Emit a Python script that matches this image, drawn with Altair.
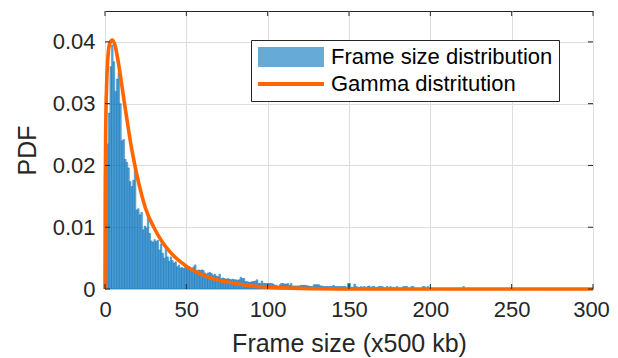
import altair as alt
import pandas as pd

# Histogram: 1-unit bins starting at 0 (bin k covers [k, k+1))
hist_vals = [
    0.0130, 0.0235, 0.0285, 0.0360, 0.0395, 0.0368, 0.0320, 0.0340, 0.0350, 0.0300,
    0.0240, 0.0242, 0.0210, 0.0205, 0.0196, 0.0174, 0.0166, 0.0176, 0.0200, 0.0128,
    0.0130, 0.0120, 0.0124, 0.0096, 0.0102, 0.0099, 0.0118, 0.0090, 0.0078, 0.0076,
    0.0080, 0.0077, 0.0079, 0.0063, 0.0073, 0.0058, 0.0050, 0.0067, 0.0052, 0.0045,
    0.0052, 0.0046, 0.0042, 0.0044, 0.0036, 0.0039, 0.0034, 0.0035, 0.0033, 0.0037,
    0.0034, 0.0031, 0.0034, 0.0030, 0.0036, 0.0039, 0.0029, 0.0031, 0.0030, 0.0031,
    0.0030, 0.0026, 0.0024, 0.0026, 0.0027, 0.0025, 0.0022, 0.0024, 0.0021, 0.0020,
    0.0024, 0.0017, 0.0018, 0.0017, 0.0016, 0.0017, 0.0016, 0.0015, 0.0016, 0.0015,
    0.0015, 0.0014, 0.0015, 0.0019, 0.0017, 0.0017, 0.0012, 0.0012, 0.0011, 0.0011,
    0.0012, 0.0012, 0.0013, 0.0015, 0.0009, 0.0009, 0.0013, 0.0009, 0.0009, 0.0009,
    0.0009, 0.0009, 0.0009, 0.0008, 0.0006, 0.0006, 0.0004, 0.0007, 0.0009, 0.0009,
    0.0008, 0.0008, 0.0009, 0.0006, 0.0009, 0.0005, 0.0005, 0.0005, 0.0005, 0.0005,
    0.0006, 0.0006, 0.0006, 0.0006, 0.0005, 0.0005, 0.0004, 0.0004, 0.0007, 0.0007,
    0.0007, 0.0007, 0.0005, 0.0005, 0.0004, 0.0004, 0.0004, 0.0004, 0.0004, 0.0004,
    0.0006, 0.0004, 0.0004, 0.0004, 0.0004, 0.0004, 0.0004, 0.0004, 0.0003, 0.0009,
    0.0009, 0.0003, 0.0003, 0.0008, 0.0004, 0.0003, 0.0000, 0.0004, 0.0003, 0.0004,
    0.0000, 0.0004, 0.0005, 0.0000, 0.0004, 0.0004, 0.0000, 0.0003, 0.0004, 0.0004,
    0.0004, 0.0000, 0.0000, 0.0004, 0.0000, 0.0004, 0.0000, 0.0003, 0.0000, 0.0004,
    0.0000, 0.0000, 0.0000, 0.0004, 0.0004, 0.0004, 0.0000, 0.0000, 0.0004, 0.0004,
    0.0000, 0.0000, 0.0000, 0.0000, 0.0000, 0.0004, 0.0004, 0.0000, 0.0004, 0.0000,
    0.0000, 0.0000, 0.0000, 0.0000, 0.0000, 0.0000, 0.0000, 0.0000, 0.0000, 0.0000,
    0.0000, 0.0000, 0.0000, 0.0000, 0.0000, 0.0000, 0.0000, 0.0000, 0.0000, 0.0000,
    0.0004,
]

# Fitted gamma curve
gamma_x = [0, 0.2, 0.5, 1, 2, 3, 4.5, 6, 8, 10, 12, 14, 16, 18, 20, 22, 25,
           30, 35, 40, 45, 50, 60, 70, 80, 90, 100, 120, 150, 200, 300]
gamma_y = [0.0, 0.018, 0.027, 0.033, 0.0382, 0.0398, 0.0403, 0.0396, 0.0370,
           0.0336, 0.0300, 0.0266, 0.0233, 0.0205, 0.0180, 0.0158, 0.0130,
           0.0100, 0.0077, 0.0060, 0.0047, 0.0037, 0.0023, 0.0014, 0.0009,
           0.0005, 0.0003, 0.0001, 0.00002, 0.0, 0.0]

x_ticks = [0, 50, 100, 150, 200, 250, 300]
y_ticks = [0, 0.01, 0.02, 0.03, 0.04]
series = ["Frame size distribution", "Gamma distritution"]

BLUE = "#0072BD"
ORANGE = "#FF6600"
DARK = "#262626"
W, H = 488, 278

hist_df = pd.DataFrame({
    "start": list(range(len(hist_vals))),
    "end": [i + 1 for i in range(len(hist_vals))],
    "pdf": hist_vals,
})
gamma_df = pd.DataFrame({"x": gamma_x, "y": gamma_y})
xt_df = pd.DataFrame({"v": x_ticks})
yt_df = pd.DataFrame({"v": y_ticks})
leg_df = pd.DataFrame({"series": series})

xscale = alt.Scale(domain=[0, 300], nice=False, zero=False)
yscale = alt.Scale(domain=[0, 0.045], nice=False)

xaxis = alt.Axis(values=x_ticks, title="Frame size (x500 kb)", grid=True,
                 tickSize=0, domain=False, labelPadding=10, titlePadding=11,
                 labelFlush=False, labelOverlap=False,
                 labelOffset={"condition": {"test": "datum.value == 300", "value": -2},
                              "value": 0})
yaxis = alt.Axis(values=y_ticks, format=".2~f", title="PDF", grid=True,
                 tickSize=0, domain=False, labelPadding=10, titlePadding=12)

bars = alt.Chart(hist_df).mark_rect(
    fill=BLUE, fillOpacity=0.6, stroke=BLUE, strokeOpacity=0.85, strokeWidth=0.5
).encode(
    x=alt.X("start:Q", scale=xscale, axis=xaxis),
    x2="end:Q",
    y=alt.Y("pdf:Q", scale=yscale, axis=yaxis),
    y2=alt.datum(0),
)

curve = alt.Chart(gamma_df).mark_line(
    color=ORANGE, strokeWidth=3.6, interpolate="monotone"
).encode(
    x=alt.X("x:Q", scale=xscale),
    y=alt.Y("y:Q", scale=yscale),
)

tick_style = dict(color=DARK, strokeWidth=1)
xt_bottom = alt.Chart(xt_df).mark_rule(**tick_style).encode(
    x=alt.X("v:Q", scale=xscale), y=alt.value(H), y2=alt.value(H - 5))
xt_top = alt.Chart(xt_df).mark_rule(**tick_style).encode(
    x=alt.X("v:Q", scale=xscale), y=alt.value(0), y2=alt.value(5))
yt_left = alt.Chart(yt_df).mark_rule(**tick_style).encode(
    y=alt.Y("v:Q", scale=yscale), x=alt.value(0), x2=alt.value(5))
yt_right = alt.Chart(yt_df).mark_rule(**tick_style).encode(
    y=alt.Y("v:Q", scale=yscale), x=alt.value(W), x2=alt.value(W - 5))

legend = alt.Legend(
    title=None, orient="none", legendX=146, legendY=29, direction="vertical",
    fillColor="white", strokeColor=DARK, padding=6, rowPadding=5,
    labelFontSize=22, labelColor="#000000", labelLimit=400,
    symbolSize=400, symbolOffset=23, labelOffset=29, symbolStrokeWidth=0,
)
legend_layer = alt.Chart(leg_df).mark_point(filled=True, clip=True, opacity=1).encode(
    x=alt.value(-200), y=alt.value(-200),
    color=alt.Color("series:N", scale=alt.Scale(domain=series, range=["#66AAD7", ORANGE]),
                    legend=legend),
    shape=alt.Shape("series:N", scale=alt.Scale(
        domain=series,
        range=["M-3.3,-1H3.3V1H-3.3Z", "M-3.3,-0.2H3.3V0.2H-3.3Z"]), legend=legend),
)

chart = alt.layer(
    bars, curve, xt_bottom, xt_top, yt_left, yt_right, legend_layer
).properties(
    width=W, height=H,
    autosize=alt.AutoSizeParams(type="none"),
    padding={"left": 97, "top": 3, "right": 17, "bottom": 68},
).configure(
    font="Liberation Sans",
).configure_view(
    stroke=DARK, strokeWidth=1,
).configure_axis(
    labelFontSize=22, labelColor=DARK, titleFontSize=25, titleFontWeight="normal",
    titleColor=DARK, gridColor="#dedede", gridWidth=1, labelFont="Liberation Sans",
)

chart.save("out.html", embed_options={"renderer": "svg", "actions": False})
